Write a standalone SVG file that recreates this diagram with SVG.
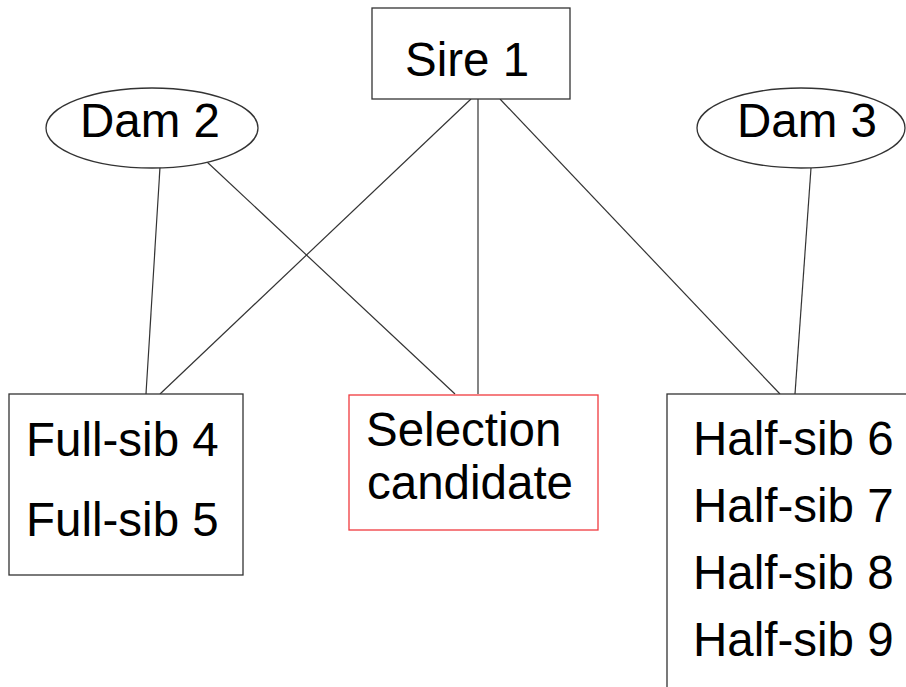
<svg xmlns="http://www.w3.org/2000/svg" width="906" height="687" viewBox="0 0 906 687">
<style>
.box{fill:#fff;stroke:#333;stroke-width:1.3}
.red{fill:#fff;stroke:#f03a3e;stroke-width:1.3}
.t{font-family:"Liberation Sans",Arial,sans-serif;font-size:47.5px;fill:#000}
.c line{stroke:#333;stroke-width:1.2}
</style>
<rect width="906" height="687" fill="#fff"/>
<g id="connectors" class="c">
<line x1="160" y1="167" x2="146" y2="394"/>
<line x1="206" y1="161" x2="455" y2="394"/>
<line x1="471" y1="99" x2="160" y2="394"/>
<line x1="478" y1="99" x2="478" y2="394"/>
<line x1="500" y1="99" x2="780" y2="394"/>
<line x1="811" y1="168" x2="795" y2="394"/>
</g>
<g id="sire1">
<rect class="box" x="372" y="8" width="198" height="91"/>
<text class="t" x="405" y="76">Sire 1</text>
</g>
<g id="dam2">
<ellipse class="box" cx="152" cy="128" rx="106" ry="40"/>
<text class="t" x="80" y="137">Dam 2</text>
</g>
<g id="dam3">
<ellipse class="box" cx="801" cy="128" rx="104" ry="40"/>
<text class="t" x="737" y="137">Dam 3</text>
</g>
<g id="fullsibs">
<rect class="box" x="9" y="394" width="234" height="181"/>
<text class="t" x="26" y="456">Full-sib 4</text>
<text class="t" x="26" y="536">Full-sib 5</text>
</g>
<g id="candidate">
<rect class="red" x="349" y="395" width="249" height="135"/>
<text class="t" x="366" y="446">Selection</text>
<text class="t" x="367" y="499">candidate</text>
</g>
<g id="halfsibs">
<rect class="box" x="667" y="394" width="260" height="310"/>
<text class="t" x="693" y="455">Half-sib 6</text>
<text class="t" x="693" y="522">Half-sib 7</text>
<text class="t" x="693" y="589">Half-sib 8</text>
<text class="t" x="693" y="656">Half-sib 9</text>
</g>
</svg>
